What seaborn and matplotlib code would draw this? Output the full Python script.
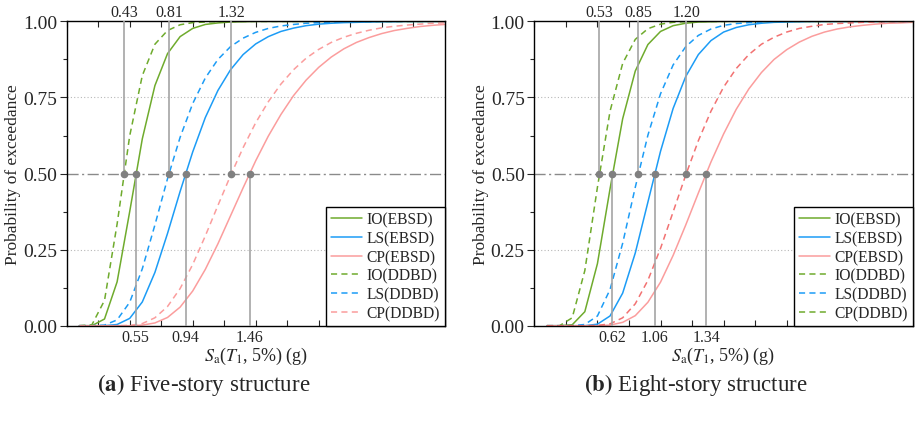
import matplotlib
matplotlib.use("Agg")
import matplotlib.pyplot as plt
import seaborn as sns
from matplotlib.ticker import MultipleLocator, NullFormatter

# spectral acceleration grid Sa(T1, 5%) in g
SA = [0.1, 0.2, 0.3, 0.4, 0.5, 0.6, 0.7, 0.8, 0.9, 1.0,
      1.1, 1.2, 1.3, 1.4, 1.5, 1.6, 1.7, 1.8, 1.9, 2.0,
      2.1, 2.2, 2.3, 2.4, 2.5, 2.6, 2.7, 2.8, 2.9, 3.0]

LABELS = ["IO(EBSD)", "LS(EBSD)", "CP(EBSD)", "IO(DDBD)", "LS(DDBD)", "CP(DDBD)"]

# (a) five-story structure
a_io_ebsd = [0, 0, 0.022, 0.144, 0.375, 0.614, 0.789, 0.894, 0.950, 0.977,
             0.990, 0.995, 0.998, 0.999, 1, 1, 1, 1, 1, 1,
             1, 1, 1, 1, 1, 1, 1, 1, 1, 1]
a_ls_ebsd = [0, 0, 0, 0.004, 0.024, 0.078, 0.175, 0.303, 0.441, 0.571,
             0.684, 0.773, 0.841, 0.891, 0.926, 0.950, 0.967, 0.978, 0.986, 0.991,
             0.994, 0.996, 0.997, 0.998, 0.999, 0.999, 1, 1, 1, 1]
a_cp_ebsd = [0, 0, 0, 0, 0, 0.002, 0.009, 0.027, 0.061, 0.114,
             0.185, 0.269, 0.361, 0.453, 0.542, 0.623, 0.694, 0.756, 0.807, 0.849,
             0.883, 0.910, 0.931, 0.947, 0.960, 0.970, 0.977, 0.983, 0.987, 0.990]
a_io_ddbd = [0, 0.003, 0.083, 0.334, 0.624, 0.822, 0.925, 0.970, 0.989, 0.996,
             0.998, 0.999, 1, 1, 1, 1, 1, 1, 1, 1,
             1, 1, 1, 1, 1, 1, 1, 1, 1, 1]
a_ls_ddbd = [0, 0, 0.002, 0.019, 0.077, 0.187, 0.331, 0.483, 0.619, 0.730,
             0.814, 0.875, 0.917, 0.945, 0.964, 0.977, 0.985, 0.990, 0.994, 0.996,
             0.997, 0.998, 0.999, 0.999, 1, 1, 1, 1, 1, 1]
a_cp_ddbd = [0, 0, 0, 0, 0.001, 0.007, 0.026, 0.063, 0.122, 0.201,
             0.295, 0.395, 0.493, 0.585, 0.667, 0.736, 0.794, 0.841, 0.879, 0.908,
             0.931, 0.948, 0.961, 0.971, 0.979, 0.984, 0.988, 0.991, 0.994, 0.995]
a_ddbd_at = [0.455, 0.812, 1.307]
a_ddbd_txt = ["0.43", "0.81", "1.32"]
a_ebsd_at = [0.548, 0.944, 1.452]
a_ebsd_txt = ["0.55", "0.94", "1.46"]

# (b) eight-story structure
b_io_ebsd = [0, 0, 0.003, 0.046, 0.204, 0.450, 0.680, 0.837, 0.924, 0.967,
             0.986, 0.994, 0.998, 0.999, 1, 1, 1, 1, 1, 1,
             1, 1, 1, 1, 1, 1, 1, 1, 1, 1]
b_ls_ebsd = [0, 0, 0, 0, 0.005, 0.032, 0.107, 0.239, 0.406, 0.573,
             0.714, 0.819, 0.891, 0.937, 0.965, 0.980, 0.989, 0.994, 0.997, 0.998,
             0.999, 1, 1, 1, 1, 1, 1, 1, 1, 1]
b_cp_ebsd = [0, 0, 0, 0, 0, 0.002, 0.011, 0.033, 0.077, 0.143,
             0.231, 0.331, 0.436, 0.538, 0.630, 0.711, 0.778, 0.832, 0.875, 0.907,
             0.932, 0.951, 0.965, 0.975, 0.982, 0.987, 0.991, 0.994, 0.995, 0.997]
b_io_ddbd = [0, 0, 0.026, 0.181, 0.455, 0.705, 0.862, 0.941, 0.976, 0.991,
             0.997, 0.999, 1, 1, 1, 1, 1, 1, 1, 1,
             1, 1, 1, 1, 1, 1, 1, 1, 1, 1]
b_ls_ddbd = [0, 0, 0, 0.004, 0.032, 0.119, 0.271, 0.455, 0.626, 0.762,
             0.857, 0.917, 0.954, 0.975, 0.987, 0.993, 0.996, 0.998, 0.999, 1,
             1, 1, 1, 1, 1, 1, 1, 1, 1, 1]
b_cp_ddbd = [0, 0, 0, 0, 0.001, 0.006, 0.026, 0.072, 0.149, 0.254,
             0.374, 0.495, 0.608, 0.705, 0.784, 0.845, 0.891, 0.925, 0.948, 0.965,
             0.977, 0.984, 0.990, 0.993, 0.995, 0.997, 0.998, 0.999, 0.999, 1]
b_ddbd_at = [0.516, 0.825, 1.204]
b_ddbd_txt = ["0.53", "0.85", "1.20"]
b_ebsd_at = [0.619, 0.955, 1.362]
b_ebsd_txt = ["0.62", "1.06", "1.34"]

sns.set_theme(style="ticks")
plt.rcParams["font.family"] = ["Liberation Serif", "DejaVu Serif"]
plt.rcParams["mathtext.fontset"] = "stix"

GREEN, BLUE, PINK = "#6fab2d", "#1c9cf6", "#fb9d9d"
GRAY = "#a4a4a4"


def draw_panel(ax, curves, colors, ddbd_at, ddbd_txt, ebsd_at, ebsd_txt, wrong_last=False):
    for i, (vals, lab) in enumerate(zip(curves, LABELS)):
        ls = "-" if i < 3 else (0, (4, 2.8))
        sns.lineplot(x=SA, y=vals, ax=ax, color=colors[i], lw=1.1,
                     linestyle=ls, label=lab, errorbar=None)

    ax.set_xlim(0, 3)
    ax.set_ylim(0, 1)
    for yy in (0.25, 0.75):
        ax.axhline(yy, color="#b8b8b8", lw=0.8, ls=(0, (1, 2)), zorder=0)
    ax.axhline(0.5, color="#8a8a8a", lw=1.0, ls=(0, (8, 2.5, 1.5, 2.5)), zorder=1)

    ax.vlines(ddbd_at, 0.5, 1.0, color=GRAY, lw=1.2, zorder=3)
    ax.vlines(ebsd_at, 0.0, 0.5, color=GRAY, lw=1.2, zorder=3)
    ax.plot(ddbd_at + ebsd_at, [0.5] * 6, "o", color="#808080", ms=4.5, zorder=5)

    for x, t in zip(ddbd_at, ddbd_txt):
        ax.annotate(t, xy=(x, 1), xycoords=("data", "axes fraction"), xytext=(0, 1),
                    textcoords="offset points", ha="center", va="bottom", fontsize=11.5)
    for x, t in zip(ebsd_at, ebsd_txt):
        ax.annotate(t, xy=(x, 0), xycoords=("data", "axes fraction"), xytext=(0, -2.5),
                    textcoords="offset points", ha="center", va="top", fontsize=11.5)

    ax.xaxis.set_major_locator(MultipleLocator(0.25))
    ax.xaxis.set_major_formatter(NullFormatter())
    ax.tick_params(axis="x", which="both", direction="in", top=True, bottom=True,
                   length=4, width=0.8)
    ax.yaxis.set_minor_locator(MultipleLocator(0.125))
    ax.set_yticks([0, 0.25, 0.5, 0.75, 1.0], ["0.00", "0.25", "0.50", "0.75", "1.00"])
    ax.tick_params(axis="y", which="major", direction="out", length=5, width=0.8,
                   labelsize=14, pad=2)
    ax.tick_params(axis="y", which="minor", direction="out", length=3, width=0.8)
    for s in ax.spines.values():
        s.set_linewidth(1.0)
        s.set_color("black")

    ax.set_xlabel(r"$S_{\mathrm{a}}$($T_1$, 5%) (g)", fontsize=13, labelpad=10)
    ax.set_ylabel("Probability of exceedance", fontsize=12.5, labelpad=1)

    handles, labels = ax.get_legend_handles_labels()
    if wrong_last:
        handles[5] = handles[3]
    leg = ax.legend(handles, labels, loc="lower right", borderaxespad=0, fontsize=11.2,
                    frameon=True, fancybox=False, framealpha=1, edgecolor="black",
                    handlelength=2.0, handletextpad=0.32, labelspacing=0.17,
                    borderpad=0.3)
    leg.get_frame().set_linewidth(1.0)
    leg.set_zorder(10)


fig = plt.figure(figsize=(9.15, 4.31), dpi=100)
ax_a = fig.add_axes([0.0729, 0.242, 0.4131, 0.706])
ax_b = fig.add_axes([0.584, 0.242, 0.4136, 0.706])

draw_panel(ax_a, [a_io_ebsd, a_ls_ebsd, a_cp_ebsd, a_io_ddbd, a_ls_ddbd, a_cp_ddbd],
           [GREEN, BLUE, PINK, GREEN, BLUE, PINK],
           a_ddbd_at, a_ddbd_txt, a_ebsd_at, a_ebsd_txt)
draw_panel(ax_b, [b_io_ebsd, b_ls_ebsd, b_cp_ebsd, b_io_ddbd, b_ls_ddbd, b_cp_ddbd],
           [GREEN, BLUE, PINK, GREEN, BLUE, "#f27272"],
           b_ddbd_at, b_ddbd_txt, b_ebsd_at, b_ebsd_txt, wrong_last=True)

fig.text(0.223, 0.106, r"$\mathbf{(a)}$ Five-story structure", ha="center", va="center",
         fontsize=16.5)
fig.text(0.76, 0.106, r"$\mathbf{(b)}$ Eight-story structure", ha="center", va="center",
         fontsize=16.5)

fig.savefig("out.png", dpi=100)
